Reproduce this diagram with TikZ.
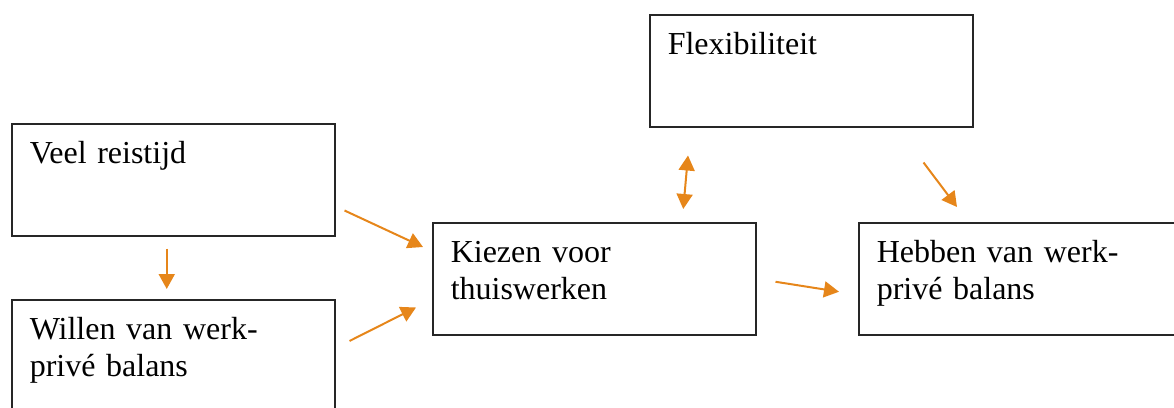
\documentclass[tikz,border=0pt]{standalone}
\usepackage{fontspec}
\setmainfont{Liberation Serif}
\usetikzlibrary{arrows.meta}

\definecolor{arrorange}{HTML}{E6861A}

\begin{document}
\begin{tikzpicture}[x=1pt, y=-1pt,
    box/.style={draw=black!85, line width=1.5pt, anchor=north west,
                align=left, text width=287pt, inner xsep=18pt, inner ysep=0pt,
                text height=40pt, text depth=72pt,
                font=\fontsize{32}{37}\selectfont},
    arr/.style={draw=arrorange, line width=2pt,
                -{Triangle[length=15pt, width=16pt]}},
    dblarr/.style={arr, {Triangle[length=15pt, width=16pt]}-{Triangle[length=15pt, width=16pt]}}]

  \useasboundingbox (0, 0) rectangle (1174, 407);
  \clip (0, 0) rectangle (1174, 407);

  %        x,    y
  \node [box] (veel)   at (11,  123) {Veel reistijd};
  \node [box] (willen) at (11,  299) {Willen van werk-\\privé balans};
  \node [box] (kiezen) at (432, 222) {Kiezen voor\\thuiswerken};
  \node [box] (flex)   at (649, 14)  {Flexibiliteit};
  \node [box] (hebben) at (858, 222) {Hebben van werk-\\privé balans};

  % Oorzaken van thuiswerken.
  \draw [arr] ([xshift=-6.5pt, yshift=-12pt]veel.south)
           -- ([xshift=-6.5pt, yshift=10pt]willen.north);
  \draw [arr] ([xshift=9pt, yshift=26pt]veel.south east)
           -- ([xshift=-9pt, yshift=-25pt]kiezen.north west);
  \draw [arr] ([xshift=14pt, yshift=-42pt]willen.north east)
           -- ([xshift=-16pt, yshift=28pt]kiezen.south west);

  % Gevolgen van thuiswerken.
  \draw [dblarr] ([xshift=39pt, yshift=-28pt]flex.south west)
              -- ([xshift=89pt, yshift=13pt]kiezen.north);
  \draw [arr] ([xshift=-50pt, yshift=-35pt]flex.south east)
           -- ([xshift=99pt, yshift=15pt]hebben.north west);
  \draw [arr] ([xshift=19pt, yshift=-3pt]kiezen.east)
           -- ([xshift=-19pt, yshift=-13pt]hebben.west);

\end{tikzpicture}
\end{document}
